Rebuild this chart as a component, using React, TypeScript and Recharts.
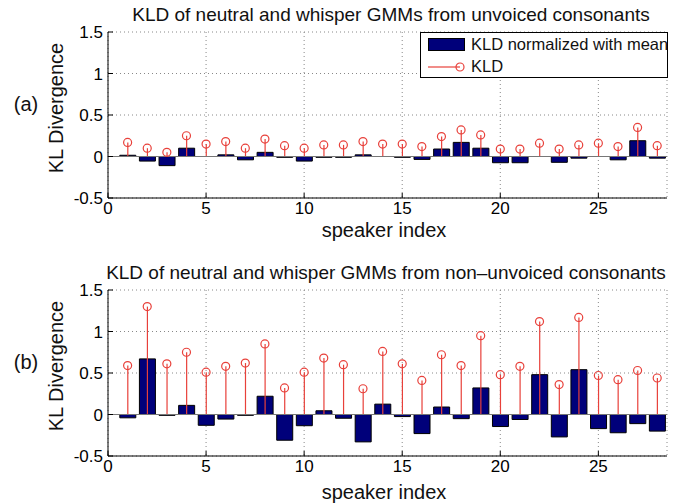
import {
  Bar,
  CartesianGrid,
  ComposedChart,
  ReferenceLine,
  Scatter,
  XAxis,
  YAxis,
} from "recharts";

const FONT = "'Liberation Sans', Arial, Helvetica, sans-serif";
const NAVY = "#00007a";
const RED = "#e8403a";

const speakers = [
  1, 2, 3, 4, 5, 6, 7, 8, 9, 10, 11, 12, 13, 14, 15, 16, 17, 18, 19, 20, 21, 22, 23, 24, 25, 26, 27, 28,
];

// (a) unvoiced consonants
const kldA = [
  0.17, 0.1, 0.05, 0.25, 0.15, 0.18, 0.1, 0.21, 0.13, 0.1, 0.14, 0.14, 0.18, 0.15, 0.15, 0.12, 0.24, 0.32,
  0.26, 0.09, 0.09, 0.16, 0.09, 0.14, 0.16, 0.12, 0.35, 0.13,
];
const normA = [
  0.015, -0.055, -0.11, 0.1, 0, 0.02, -0.04, 0.05, -0.01, -0.055, -0.01, -0.01, 0.02, 0, -0.01, -0.035, 0.09,
  0.17, 0.1, -0.075, -0.075, 0, -0.07, -0.02, 0, -0.04, 0.19, -0.02,
];

// (b) non-unvoiced consonants
const kldB = [
  0.59, 1.3, 0.61, 0.75, 0.51, 0.58, 0.62, 0.85, 0.32, 0.51, 0.68, 0.6, 0.31, 0.76, 0.61, 0.41, 0.72, 0.59,
  0.95, 0.48, 0.58, 1.12, 0.36, 1.17, 0.47, 0.42, 0.53, 0.44,
];
const normB = [
  -0.04, 0.67, -0.01, 0.11, -0.13, -0.055, -0.01, 0.22, -0.31, -0.135, 0.045, -0.045, -0.33, 0.125, -0.025,
  -0.23, 0.09, -0.05, 0.32, -0.145, -0.06, 0.48, -0.27, 0.54, -0.17, -0.22, -0.11, -0.2,
];

const xTicks = [0, 5, 10, 15, 20, 25];
const yTicks = [-0.5, 0, 0.5, 1, 1.5];
const xDomain = [0, 28.5];
const yDomain = [-0.5, 1.5];

const legendLabels = ["KLD normalized with mean", "KLD"];

type PanelProps = {
  top: number;
  title: string;
  titleX: number;
  tag: string;
  kld: number[];
  norm: number[];
  xLabelY: number;
  legend?: boolean;
};

const tickStyle = { fill: "#000", fontSize: 17, fontFamily: FONT };

function Circle(props: any) {
  const { cx, cy } = props;
  if (cx == null || cy == null) return null;
  return <circle cx={cx} cy={cy} r={4} fill="none" stroke={RED} strokeWidth={1.2} />;
}

// stem: vertical line from the baseline up to the value, drawn via the bar geometry
function Stem(props: any) {
  const { x, y, width, height } = props;
  if (x == null || y == null) return null;
  const cx = x + width / 2;
  return <line x1={cx} y1={y} x2={cx} y2={y + height} stroke={RED} strokeWidth={1.2} />;
}

function Panel({ top, title, titleX, tag, kld, norm, xLabelY, legend }: PanelProps) {
  const data = speakers.map((s, i) => ({ idx: s, norm: norm[i], kld: kld[i] }));
  const text = (x: number, y: number, s: string, size: number, rotate = false) => (
    <div
      style={{
        position: "absolute",
        left: x,
        top: y,
        transform: `translate(-50%, -50%)${rotate ? " rotate(-90deg)" : ""}`,
        fontFamily: FONT,
        fontSize: size,
        lineHeight: 1,
        whiteSpace: "nowrap",
        color: "#111",
      }}
    >
      {s}
    </div>
  );

  return (
    <div style={{ position: "absolute", left: 0, top, width: 694, height: 250 }}>
      <ComposedChart
        width={694}
        height={250}
        data={data}
        margin={{ top: 32, right: 27, bottom: 22, left: 48 }}
      >
        <CartesianGrid stroke="#888" strokeDasharray="1 3" />
        <XAxis
          dataKey="idx"
          type="number"
          domain={xDomain}
          ticks={xTicks}
          allowDataOverflow
          height={30}
          tick={tickStyle}
          tickSize={-5}
          tickMargin={9}
          stroke="#000"
          interval={0}
        />
        <XAxis
          xAxisId="t"
          dataKey="idx"
          orientation="top"
          type="number"
          domain={xDomain}
          ticks={xTicks}
          allowDataOverflow
          height={0}
          tick={false}
          tickSize={-5}
          stroke="#000"
        />
        <YAxis
          type="number"
          domain={yDomain}
          ticks={yTicks}
          allowDataOverflow
          width={60}
          tick={tickStyle}
          tickSize={-5}
          tickMargin={10}
          stroke="#000"
          interval={0}
        />
        <YAxis
          yAxisId="r"
          orientation="right"
          type="number"
          domain={yDomain}
          ticks={yTicks}
          allowDataOverflow
          width={0}
          tick={false}
          tickSize={-5}
          stroke="#000"
        />
        <ReferenceLine y={0} stroke="#777" strokeWidth={1} />
        <Bar
          dataKey="norm"
          barSize={16}
          fill={NAVY}
          stroke="#000"
          strokeWidth={1}
          isAnimationActive={false}
        />
        <Bar
          xAxisId="t"
          dataKey="kld"
          barSize={16}
          shape={<Stem />}
          isAnimationActive={false}
        />
        <Scatter dataKey="kld" shape={<Circle />} isAnimationActive={false} />
      </ComposedChart>

      {text(titleX, 14, title, 19)}
      {text(26, 104, tag, 20)}
      {text(56, 108, "KL Divergence", 20, true)}
      {text(384, xLabelY, "speaker index", 20)}

      {legend && (
        <div
          style={{
            position: "absolute",
            left: 420,
            top: 32,
            width: 246,
            height: 44,
            border: "1px solid #000",
            background: "#fff",
            fontFamily: FONT,
            fontSize: 16.5,
            color: "#111",
            whiteSpace: "nowrap",
          }}
        >
          <div
            style={{
              position: "absolute",
              left: 7,
              top: 5,
              width: 37,
              height: 13,
              background: NAVY,
              border: "1px solid #000",
              boxSizing: "border-box",
            }}
          />
          <div style={{ position: "absolute", left: 50, top: 3, lineHeight: "17px" }}>{legendLabels[0]}</div>
          <svg style={{ position: "absolute", left: 7, top: 27 }} width={40} height={14}>
            <line x1={0} y1={7} x2={32} y2={7} stroke={RED} strokeWidth={1.2} />
            <circle cx={32} cy={7} r={4} fill="none" stroke={RED} strokeWidth={1.2} />
          </svg>
          <div style={{ position: "absolute", left: 50, top: 25, lineHeight: "17px" }}>{legendLabels[1]}</div>
        </div>
      )}
    </div>
  );
}

export default function App() {
  return (
    <div style={{ position: "absolute", left: 0, top: 0, width: 694, height: 504, background: "#fff" }}>
      <Panel
        top={0}
        title="KLD of neutral and whisper GMMs from unvoiced consonants"
        titleX={391}
        tag="(a)"
        kld={kldA}
        norm={normA}
        xLabelY={230}
        legend
      />
      <Panel
        top={258}
        title="KLD of neutral and whisper GMMs from non–unvoiced consonants"
        titleX={386}
        tag="(b)"
        kld={kldB}
        norm={normB}
        xLabelY={234}
      />
    </div>
  );
}
